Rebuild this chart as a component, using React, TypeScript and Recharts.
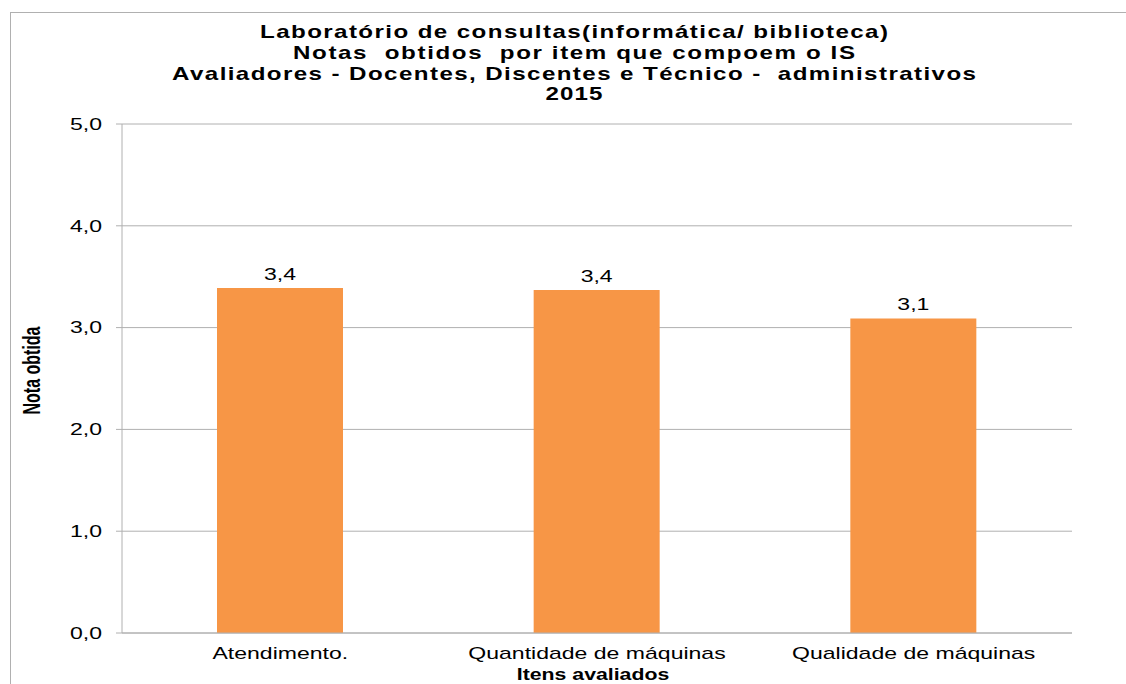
import { Bar, BarChart, CartesianGrid, LabelList, XAxis, YAxis } from "recharts";

const categories = ["Atendimento.", "Quantidade de máquinas", "Qualidade de máquinas"];
const notas = [3.39, 3.37, 3.09];
const yTicks = [0, 1, 2, 3, 4, 5];
const titleLines = [
  "Laboratório de consultas(informática/ biblioteca)",
  "Notas  obtidos  por item que compoem o IS",
  "Avaliadores - Docentes, Discentes e Técnico -  administrativos",
  "2015",
];
const titleWidths = [628, 562, 804, 57];

const data = categories.map((item, i) => ({ item, nota: notas[i] }));

const fmt = (v: number) => v.toFixed(1).replace(".", ",");
const font = "'Liberation Sans', Arial, sans-serif";
// the source image is stretched sideways, so is its text
const SX = 1.44;

function SText(props: {
  x: number;
  y: number;
  anchor?: "start" | "middle" | "end";
  scale?: number;
  size?: number;
  bold?: boolean;
  dy?: string | number;
  rotate?: boolean;
  length?: number;
  children: any;
}) {
  const { x, y, anchor = "middle", scale = SX, size = 16, bold, dy, rotate, length, children } = props;
  return (
    <text
      x={0}
      y={0}
      dy={dy}
      transform={`translate(${x},${y}) scale(${scale},1)${rotate ? " rotate(-90)" : ""}`}
      textAnchor={anchor}
      fill="#000"
      fontSize={size}
      fontWeight={bold ? "bold" : "normal"}
      fontFamily={font}
      textLength={length ? length / scale : undefined}
      lengthAdjust={length ? "spacing" : undefined}
      style={{ whiteSpace: "pre" }}
    >
      {children}
    </text>
  );
}

const YTick = ({ x, y, payload }: any) => (
  <SText x={x} y={y} anchor="end" dy="0.36em">
    {fmt(payload.value)}
  </SText>
);

const XTick = ({ x, y, payload }: any) => (
  <SText x={x} y={y} dy={26}>
    {payload.value}
  </SText>
);

const XTitle = ({ viewBox }: any) => (
  <SText x={viewBox.x + viewBox.width / 2 - 4} y={viewBox.y + 47} bold scale={1.33}>
    Itens avaliados
  </SText>
);

const YTitle = ({ viewBox }: any) => (
  <SText x={viewBox.x - 22} y={viewBox.y + viewBox.height / 2 - 8} bold rotate>
    Nota obtida
  </SText>
);

const BarValue = ({ x, y, width, value }: any) => (
  <SText x={x + width / 2} y={y - 8}>
    {fmt(Number(value))}
  </SText>
);

export default function App() {
  return (
    <div
      style={{
        position: "fixed",
        left: 0,
        top: 0,
        width: 1126,
        height: 684,
        overflow: "hidden",
        background: "#fff",
      }}
    >
      <div
        style={{
          position: "absolute",
          left: 10,
          top: 12,
          width: 1200,
          height: 800,
          border: "1px solid #b0b0b0",
        }}
      />
      <svg
        width={1126}
        height={120}
        style={{ position: "absolute", left: 0, top: 0 }}
      >
        {titleLines.map((l, i) => (
          <SText
            key={l}
            x={574}
            y={38 + i * 20.8}
            size={17.5}
            bold
            scale={1.38}
            length={titleWidths[i]}
          >
            {l}
          </SText>
        ))}
      </svg>
      <div style={{ position: "absolute", left: 0, top: 0 }}>
        <BarChart
          width={1126}
          height={684}
          data={data}
          margin={{ top: 124, right: 54, left: 62, bottom: 21 }}
        >
          <CartesianGrid vertical={false} stroke="#b0b0b0" />
          <XAxis
            dataKey="item"
            height={30}
            tickLine={false}
            tickSize={0}
            tickMargin={0}
            stroke="#b0b0b0"
            tick={<XTick />}
            label={{ content: <XTitle /> }}
          />
          <YAxis
            width={60}
            domain={[0, 5]}
            ticks={yTicks}
            stroke="#b0b0b0"
            tickSize={6}
            tickMargin={14}
            tick={<YTick />}
            label={{ content: <YTitle /> }}
          />
          <Bar dataKey="nota" fill="#F79646" barSize={126} isAnimationActive={false}>
            <LabelList dataKey="nota" content={<BarValue />} />
          </Bar>
        </BarChart>
      </div>
    </div>
  );
}
